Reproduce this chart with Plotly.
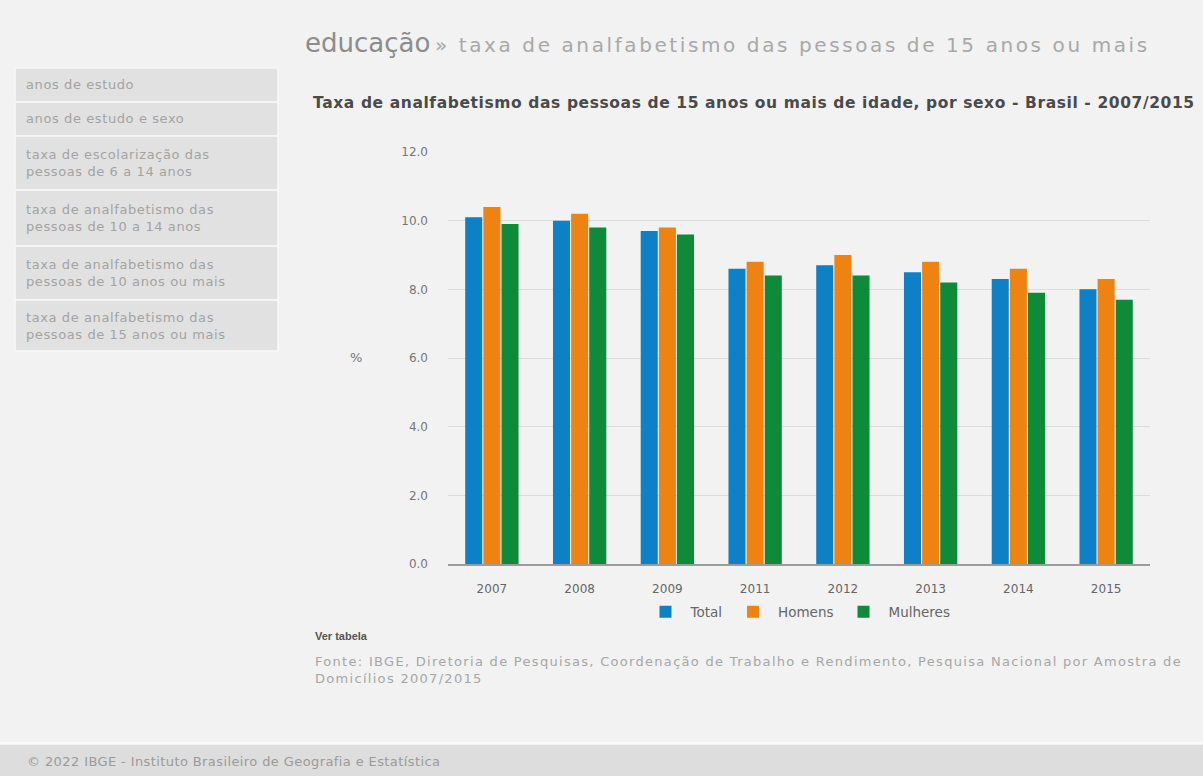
import plotly.graph_objects as go

# ---- data ----
anos = ["2007", "2008", "2009", "2011", "2012", "2013", "2014", "2015"]
total = [10.1, 10.0, 9.7, 8.6, 8.7, 8.5, 8.3, 8.0]
homens = [10.4, 10.2, 9.8, 8.8, 9.0, 8.8, 8.6, 8.3]
mulheres = [9.9, 9.8, 9.6, 8.4, 8.4, 8.2, 7.9, 7.7]
serie_nomes = ["Total", "Homens", "Mulheres"]
y_ticks = [0, 2, 4, 6, 8, 10, 12]

menu_itens = [
    ["anos de estudo"],
    ["anos de estudo e sexo"],
    ["taxa de escolarização das", "pessoas de 6 a 14 anos"],
    ["taxa de analfabetismo das", "pessoas de 10 a 14 anos"],
    ["taxa de analfabetismo das", "pessoas de 10 anos ou mais"],
    ["taxa de analfabetismo das", "pessoas de 15 anos ou mais"],
]

cabecalho_1 = "educação"
cabecalho_2 = "» taxa de analfabetismo das pessoas de 15 anos ou mais"
titulo_grafico = ("Taxa de analfabetismo das pessoas de 15 anos ou mais de idade, "
                  "por sexo - Brasil - 2007/2015")
fonte_linhas = ["Fonte: IBGE, Diretoria de Pesquisas, Coordenação de Trabalho e Rendimento, "
                "Pesquisa Nacional por Amostra de", "Domicílios 2007/2015"]
rodape_txt = "© 2022 IBGE - Instituto Brasileiro de Geografia e Estatística"

cores = ["#0e80c6", "#ef8312", "#0f8a38"]

# ---- geometry helpers (page pixels -> paper coords) ----
W, H = 1203, 776
L, R, T, B = 448, 53, 152, 212
PW, PH = W - L - R, H - T - B


def px(x):
    return (x - L) / PW


def py(y):
    return (H - B - y) / PH


def spaced(lines, ls):
    return "<br>".join('<span style="letter-spacing:%spx">%s</span>' % (ls, t) for t in lines)


FONT = "DejaVu Sans, Verdana, sans-serif"
BG = "#f2f2f2"

fig = go.Figure()
for nome, vals, cor in zip(serie_nomes, [total, homens, mulheres], cores):
    fig.add_trace(go.Bar(x=anos, y=vals, name=nome, marker=dict(color=cor, line_width=0)))

shapes = []
annotations = []

# left menu
menu_rows = [(68, 102), (102, 136), (136, 190), (190, 246), (246, 300), (300, 351)]
for (y0, y1), linhas in zip(menu_rows, menu_itens):
    shapes.append(dict(type="rect", xref="paper", yref="paper",
                       x0=px(15), x1=px(278), y0=py(y1), y1=py(y0),
                       fillcolor="#e1e1e1", line=dict(color="#f7f7f7", width=1.5), layer="below"))
    annotations.append(dict(xref="paper", yref="paper", x=px(24), y=py((y0 + y1) / 2),
                            xanchor="left", yanchor="middle", align="left", showarrow=False,
                            text=spaced(linhas, 0.6),
                            font=dict(family=FONT, size=13, color="#a3a3a3")))

# footer band
shapes.append(dict(type="rect", xref="paper", yref="paper", x0=px(0), x1=px(W),
                   y0=py(H), y1=py(745), fillcolor="#dddddd", line_width=0, layer="below"))
shapes.append(dict(type="line", xref="paper", yref="paper", x0=px(0), x1=px(W),
                   y0=py(743), y1=py(743), line=dict(color="#fafafa", width=2)))

# header
annotations.append(dict(xref="paper", yref="paper", x=px(303), y=py(60),
                        xanchor="left", yanchor="bottom", showarrow=False,
                        text=cabecalho_1, font=dict(family=FONT, size=26, color="#8c8c8c")))
annotations.append(dict(xref="paper", yref="paper", x=px(433), y=py(59),
                        xanchor="left", yanchor="bottom", showarrow=False,
                        text=spaced([cabecalho_2], 2.6),
                        font=dict(family=FONT, size=20, color="#a8a8a8")))
# chart title
annotations.append(dict(xref="paper", yref="paper", x=px(311), y=py(103),
                        xanchor="left", yanchor="middle", showarrow=False,
                        text="<b>" + spaced([titulo_grafico], 0.6) + "</b>",
                        font=dict(family=FONT, size=15.5, color="#4a4a4a")))
# y axis title
annotations.append(dict(xref="paper", yref="paper", x=px(356), y=py(357),
                        xanchor="center", yanchor="middle", showarrow=False,
                        text="%", font=dict(family=FONT, size=13, color="#777777")))
# ver tabela
annotations.append(dict(xref="paper", yref="paper", x=px(313), y=py(636),
                        xanchor="left", yanchor="middle", showarrow=False,
                        text="<b>Ver tabela</b>",
                        font=dict(family="Liberation Sans, Arial, sans-serif", size=11, color="#555555")))
# source
annotations.append(dict(xref="paper", yref="paper", x=px(313), y=py(670),
                        xanchor="left", yanchor="middle", align="left", showarrow=False,
                        text=spaced(fonte_linhas, 1.3),
                        font=dict(family=FONT, size=13, color="#a6a6a6")))
# footer text
annotations.append(dict(xref="paper", yref="paper", x=px(25), y=py(761),
                        xanchor="left", yanchor="middle", showarrow=False,
                        text=spaced([rodape_txt], 0.4),
                        font=dict(family=FONT, size=13, color="#9a9a9a")))

fig.update_layout(
    width=W, height=H,
    margin=dict(l=L, r=R, t=T, b=B, pad=0),
    paper_bgcolor=BG, plot_bgcolor=BG,
    barmode="group", bargap=0.38, bargroupgap=0.06,
    font=dict(family=FONT, size=11, color="#666666"),
    showlegend=True,
    legend=dict(orientation="h", x=px(798), xanchor="center", y=py(612), yanchor="middle",
                font=dict(family=FONT, size=13.5, color="#666666"), bgcolor="rgba(0,0,0,0)",
                itemwidth=40),
    shapes=shapes,
    annotations=annotations,
)
fig.update_xaxes(type="category", showgrid=False, showline=True, linecolor="#9c9c9c",
                 linewidth=1.5, ticks="", tickfont=dict(family=FONT, size=12, color="#666666"),
                 ticklabelstandoff=13)
fig.update_yaxes(range=[0, 12], tickvals=y_ticks, tickformat=".1f", showgrid=True,
                 gridcolor="#dcdcdc", gridwidth=1, zeroline=False, showline=False,
                 ticks="", tickfont=dict(family=FONT, size=12, color="#777777"),
                 ticklabelstandoff=19)

fig.write_html("out.html")
